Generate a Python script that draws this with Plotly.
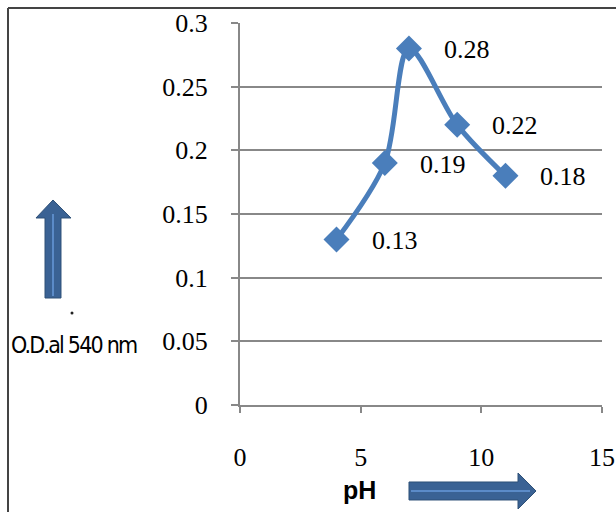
import plotly.graph_objects as go

ph = [4, 6, 7, 9, 11]
od = [0.13, 0.19, 0.28, 0.22, 0.18]
labels = ["0.13", "0.19", "0.28", "0.22", "0.18"]
x_ticks = [0, 5, 10, 15]
y_ticks = [0, 0.05, 0.1, 0.15, 0.2, 0.25, 0.3]

W, H = 616, 512
L, R, T, B = 240, 14, 23, 107
PW, PH = W - L - R, H - T - B


def px(x):
    return (x - L) / PW


def py(y):
    return (H - B - y) / PH


def path(points):
    return "M " + " L ".join(f"{px(a):.5f},{py(b):.5f}" for a, b in points) + " Z"


fig = go.Figure()
fig.add_trace(go.Scatter(
    x=ph, y=od, mode="lines+markers",
    line=dict(color="#4A7EBB", width=5, shape="spline", smoothing=0.9),
    marker=dict(symbol="diamond", size=20, color="#4A7EBB"),
    showlegend=False, hoverinfo="skip",
))

serif = "Liberation Serif, Times New Roman, serif"
for xv, yv, t in zip(ph, od, labels):
    fig.add_annotation(x=xv, y=yv, text=t, showarrow=False, xanchor="left",
                       xshift=33, yshift=-1, font=dict(family=serif, size=26, color="#000"))

shapes = []
# outer frame lines (top and left)
shapes.append(dict(type="line", xref="paper", yref="paper", x0=px(8), x1=px(616), y0=py(8), y1=py(8),
                   line=dict(color="#444444", width=2)))
shapes.append(dict(type="line", xref="paper", yref="paper", x0=px(8), x1=px(8), y0=py(8), y1=py(512),
                   line=dict(color="#444444", width=2)))
# vertical block arrow
shapes.append(dict(type="path", xref="paper", yref="paper",
                   path=path([(45, 298), (45, 218), (36, 218), (53, 200), (71, 218), (61, 218), (61, 298)]),
                   fillcolor="#3A6294", line=dict(color="#2E5077", width=1)))
shapes.append(dict(type="line", xref="paper", yref="paper", x0=px(53), x1=px(53), y0=py(214), y1=py(296),
                   line=dict(color="#5B8BC8", width=2)))
# horizontal block arrow
shapes.append(dict(type="path", xref="paper", yref="paper",
                   path=path([(409, 482), (518, 482), (518, 473), (536, 491), (518, 509), (518, 500), (409, 500)]),
                   fillcolor="#3A6294", line=dict(color="#2E5077", width=1)))
shapes.append(dict(type="line", xref="paper", yref="paper", x0=px(411), x1=px(530), y0=py(491), y1=py(491),
                   line=dict(color="#5B8BC8", width=2)))
# small dot
shapes.append(dict(type="circle", xref="paper", yref="paper", x0=px(70.5), x1=px(73.5), y0=py(311.5), y1=py(314.5),
                   fillcolor="#222", line=dict(width=0)))
fig.update_layout(shapes=shapes)

fig.add_annotation(xref="paper", yref="paper", x=px(9), y=py(345), xanchor="left", yanchor="middle",
                   text="<span style=\"font-stretch:condensed;letter-spacing:-1.8px\">O.D.al 540 nm</span>",
                   showarrow=False,
                   font=dict(family="DejaVu Sans Condensed, DejaVu Sans, sans-serif",
                             size=23, color="#000"))
fig.add_annotation(xref="paper", yref="paper", x=px(359), y=py(490), xanchor="center", yanchor="middle",
                   text="<b>pH</b>", showarrow=False,
                   font=dict(family="Liberation Sans, Arial, sans-serif", size=25, color="#000"))

fig.update_xaxes(range=[0, 15], tickvals=x_ticks, showgrid=False, showline=True, linecolor="#888888",
                 linewidth=2, ticks="outside", ticklen=6, tickwidth=2, tickcolor="#888888",
                 ticklabelstandoff=22, zeroline=False, automargin=False,
                 tickfont=dict(family=serif, size=26, color="#000"))
fig.update_yaxes(range=[0, 0.3], tickvals=y_ticks, showgrid=True, gridcolor="#888888", gridwidth=2,
                 showline=True, linecolor="#888888", linewidth=2, ticks="outside", ticklen=7, tickwidth=2,
                 tickcolor="#888888", ticklabelstandoff=18, zeroline=False, automargin=False,
                 tickfont=dict(family=serif, size=26, color="#000"))

fig.update_layout(width=W, height=H, margin=dict(l=L, r=R, t=T, b=B),
                  paper_bgcolor="white", plot_bgcolor="white")
fig.write_html("out.html")
